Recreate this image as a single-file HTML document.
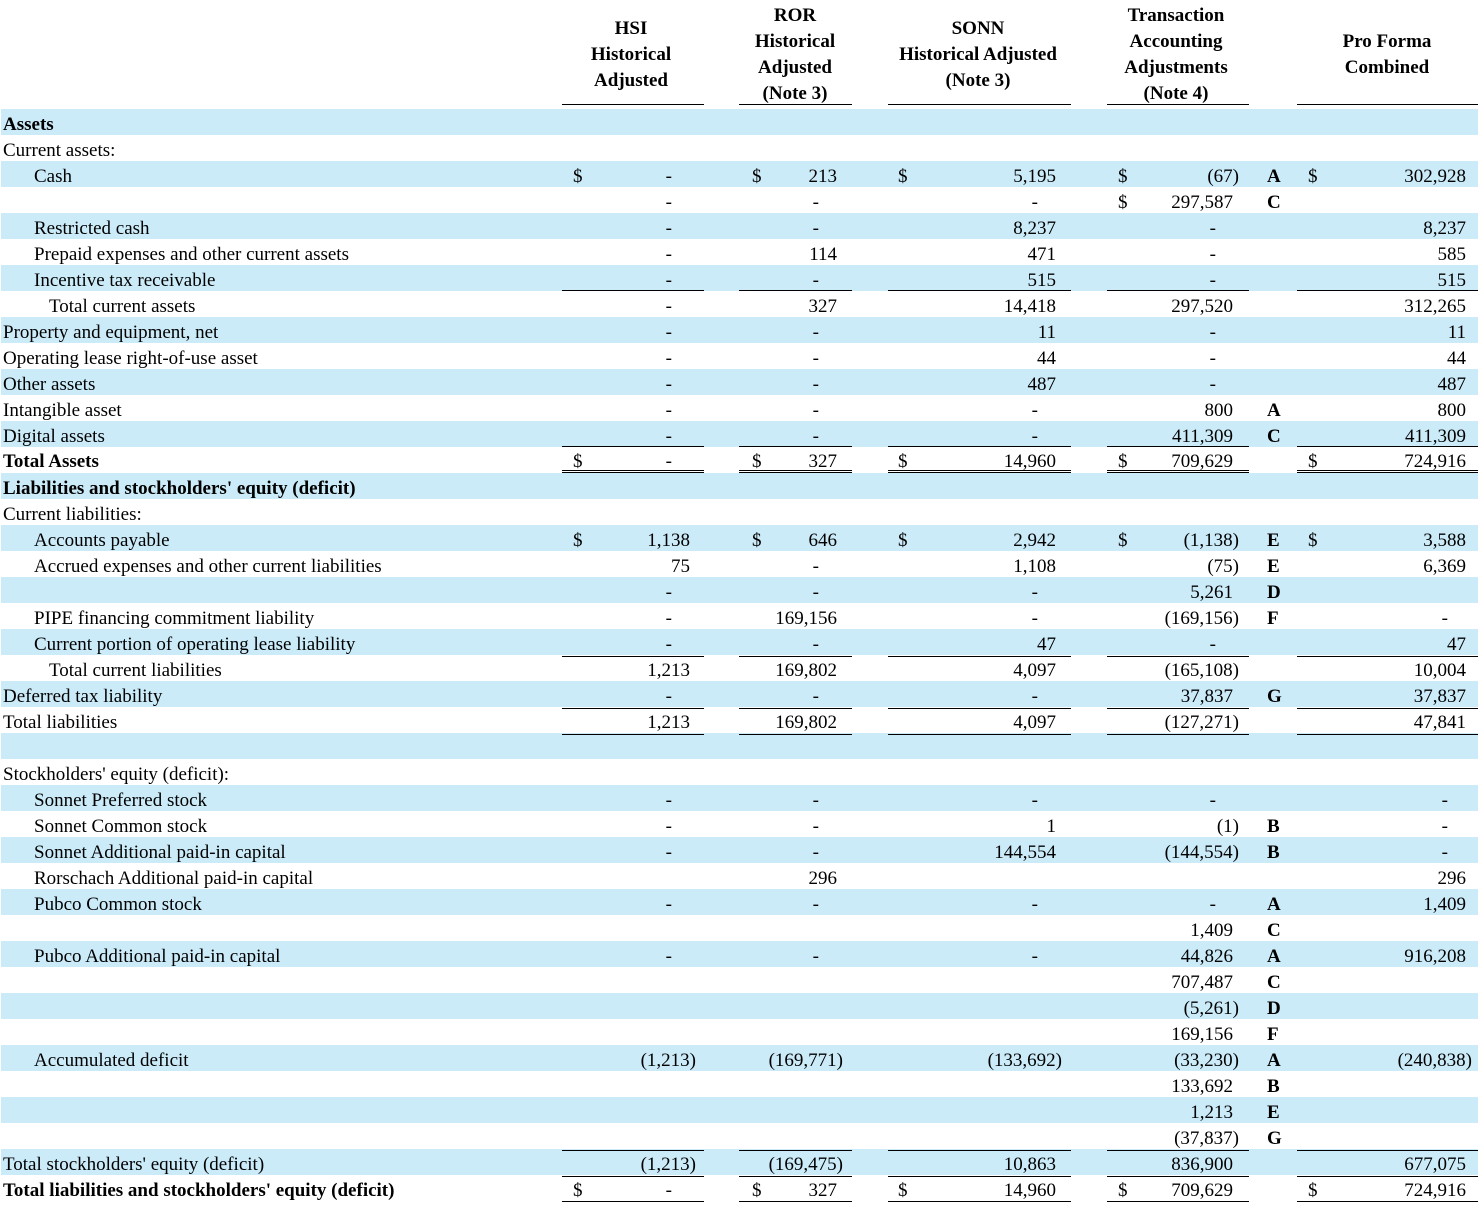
<!DOCTYPE html>
<html><head><meta charset="utf-8"><style>
body{margin:0;width:1480px;height:1205px;position:relative;overflow:hidden;background:#fff;font-family:"Liberation Serif","Times New Roman",serif;font-size:19px;color:#000}
.H{position:absolute;width:240px;text-align:center;font-weight:bold;line-height:26px;white-space:nowrap}
.r{position:absolute;left:0;width:1480px;height:26px}
.z{background:linear-gradient(90deg,#fff 1px,#cbebf9 1px,#cbebf9 1478px,#fff 1478px)}
.r span{position:absolute;top:3px;line-height:26px;white-space:nowrap}
.r.ta span{top:2px}
.l0{left:3px}.l1{left:34px}.l2{left:49px}
.b{font-weight:bold}
.dh{left:573px}.dr{left:752px}.ds{left:898px}.dt{left:1118px}.dp{left:1308px}
.h{right:790px}.hp{right:784px}.hd{right:808px}
.o{right:643px}.op{right:637px}.od{right:661px}
.m{right:424px}.mp{right:418px}.md{right:442px}
.t{right:247px}.tp{right:241px}.td{right:264px}
.p{right:14px}.pp{right:8px}.pd{right:32px}
.k{left:1267px;font-weight:bold}
.L{position:absolute;left:0;width:1480px;height:1px}
.L i{position:absolute;top:0;height:1px;background:#000}
.a1{left:562px;width:142px}.a2{left:739px;width:113px}.a3{left:888px;width:183px}.a4{left:1107px;width:142px}.a5{left:1297px;width:181px}
</style></head><body>

<div class="H" style="left:511px;top:16px">HSI<br>Historical<br>Adjusted</div>
<div class="H" style="left:675px;top:3px">ROR<br>Historical<br>Adjusted<br>(Note 3)</div>
<div class="H" style="left:858px;top:16px">SONN<br>Historical Adjusted<br>(Note 3)</div>
<div class="H" style="left:1056px;top:3px">Transaction<br>Accounting<br>Adjustments<br>(Note 4)</div>
<div class="H" style="left:1267px;top:29px">Pro Forma<br>Combined</div>

<div class="r z" style="top:109px"><span class="l0 b">Assets</span></div>
<div class="r" style="top:135px"><span class="l0">Current assets:</span></div>
<div class="r z" style="top:161px"><span class="l1">Cash</span><span class="dh">$</span><span class="hd">-</span><span class="dr">$</span><span class="o">213</span><span class="ds">$</span><span class="m">5,195</span><span class="dt">$</span><span class="tp">(67)</span><span class="k">A</span><span class="dp">$</span><span class="p">302,928</span></div>
<div class="r" style="top:187px"><span class="hd">-</span><span class="od">-</span><span class="md">-</span><span class="dt">$</span><span class="t">297,587</span><span class="k">C</span></div>
<div class="r z" style="top:213px"><span class="l1">Restricted cash</span><span class="hd">-</span><span class="od">-</span><span class="m">8,237</span><span class="td">-</span><span class="p">8,237</span></div>
<div class="r" style="top:239px"><span class="l1">Prepaid expenses and other current assets</span><span class="hd">-</span><span class="o">114</span><span class="m">471</span><span class="td">-</span><span class="p">585</span></div>
<div class="r z" style="top:265px"><span class="l1">Incentive tax receivable</span><span class="hd">-</span><span class="od">-</span><span class="m">515</span><span class="td">-</span><span class="p">515</span></div>
<div class="r" style="top:291px"><span class="l2">Total current assets</span><span class="hd">-</span><span class="o">327</span><span class="m">14,418</span><span class="t">297,520</span><span class="p">312,265</span></div>
<div class="r z" style="top:317px"><span class="l0">Property and equipment, net</span><span class="hd">-</span><span class="od">-</span><span class="m">11</span><span class="td">-</span><span class="p">11</span></div>
<div class="r" style="top:343px"><span class="l0">Operating lease right-of-use asset</span><span class="hd">-</span><span class="od">-</span><span class="m">44</span><span class="td">-</span><span class="p">44</span></div>
<div class="r z" style="top:369px"><span class="l0">Other assets</span><span class="hd">-</span><span class="od">-</span><span class="m">487</span><span class="td">-</span><span class="p">487</span></div>
<div class="r" style="top:395px"><span class="l0">Intangible asset</span><span class="hd">-</span><span class="od">-</span><span class="md">-</span><span class="t">800</span><span class="k">A</span><span class="p">800</span></div>
<div class="r z" style="top:421px"><span class="l0">Digital assets</span><span class="hd">-</span><span class="od">-</span><span class="md">-</span><span class="t">411,309</span><span class="k">C</span><span class="p">411,309</span></div>
<div class="r ta" style="top:447px"><span class="l0 b">Total Assets</span><span class="dh">$</span><span class="hd">-</span><span class="dr">$</span><span class="o">327</span><span class="ds">$</span><span class="m">14,960</span><span class="dt">$</span><span class="t">709,629</span><span class="dp">$</span><span class="p">724,916</span></div>
<div class="r z" style="top:473px"><span class="l0 b">Liabilities and stockholders' equity (deficit)</span></div>
<div class="r" style="top:499px"><span class="l0">Current liabilities:</span></div>
<div class="r z" style="top:525px"><span class="l1">Accounts payable</span><span class="dh">$</span><span class="h">1,138</span><span class="dr">$</span><span class="o">646</span><span class="ds">$</span><span class="m">2,942</span><span class="dt">$</span><span class="tp">(1,138)</span><span class="k">E</span><span class="dp">$</span><span class="p">3,588</span></div>
<div class="r" style="top:551px"><span class="l1">Accrued expenses and other current liabilities</span><span class="h">75</span><span class="od">-</span><span class="m">1,108</span><span class="tp">(75)</span><span class="k">E</span><span class="p">6,369</span></div>
<div class="r z" style="top:577px"><span class="hd">-</span><span class="od">-</span><span class="md">-</span><span class="t">5,261</span><span class="k">D</span></div>
<div class="r" style="top:603px"><span class="l1">PIPE financing commitment liability</span><span class="hd">-</span><span class="o">169,156</span><span class="md">-</span><span class="tp">(169,156)</span><span class="k">F</span><span class="pd">-</span></div>
<div class="r z" style="top:629px"><span class="l1">Current portion of operating lease liability</span><span class="hd">-</span><span class="od">-</span><span class="m">47</span><span class="td">-</span><span class="p">47</span></div>
<div class="r" style="top:655px"><span class="l2">Total current liabilities</span><span class="h">1,213</span><span class="o">169,802</span><span class="m">4,097</span><span class="tp">(165,108)</span><span class="p">10,004</span></div>
<div class="r z" style="top:681px"><span class="l0">Deferred tax liability</span><span class="hd">-</span><span class="od">-</span><span class="md">-</span><span class="t">37,837</span><span class="k">G</span><span class="p">37,837</span></div>
<div class="r" style="top:707px"><span class="l0">Total liabilities</span><span class="h">1,213</span><span class="o">169,802</span><span class="m">4,097</span><span class="tp">(127,271)</span><span class="p">47,841</span></div>
<div class="r z" style="top:733px"></div>
<div class="r" style="top:759px"><span class="l0">Stockholders' equity (deficit):</span></div>
<div class="r z" style="top:785px"><span class="l1">Sonnet Preferred stock</span><span class="hd">-</span><span class="od">-</span><span class="md">-</span><span class="td">-</span><span class="pd">-</span></div>
<div class="r" style="top:811px"><span class="l1">Sonnet Common stock</span><span class="hd">-</span><span class="od">-</span><span class="m">1</span><span class="tp">(1)</span><span class="k">B</span><span class="pd">-</span></div>
<div class="r z" style="top:837px"><span class="l1">Sonnet Additional paid-in capital</span><span class="hd">-</span><span class="od">-</span><span class="m">144,554</span><span class="tp">(144,554)</span><span class="k">B</span><span class="pd">-</span></div>
<div class="r" style="top:863px"><span class="l1">Rorschach Additional paid-in capital</span><span class="o">296</span><span class="p">296</span></div>
<div class="r z" style="top:889px"><span class="l1">Pubco Common stock</span><span class="hd">-</span><span class="od">-</span><span class="md">-</span><span class="td">-</span><span class="k">A</span><span class="p">1,409</span></div>
<div class="r" style="top:915px"><span class="t">1,409</span><span class="k">C</span></div>
<div class="r z" style="top:941px"><span class="l1">Pubco Additional paid-in capital</span><span class="hd">-</span><span class="od">-</span><span class="md">-</span><span class="t">44,826</span><span class="k">A</span><span class="p">916,208</span></div>
<div class="r" style="top:967px"><span class="t">707,487</span><span class="k">C</span></div>
<div class="r z" style="top:993px"><span class="tp">(5,261)</span><span class="k">D</span></div>
<div class="r" style="top:1019px"><span class="t">169,156</span><span class="k">F</span></div>
<div class="r z" style="top:1045px"><span class="l1">Accumulated deficit</span><span class="hp">(1,213)</span><span class="op">(169,771)</span><span class="mp">(133,692)</span><span class="tp">(33,230)</span><span class="k">A</span><span class="pp">(240,838)</span></div>
<div class="r" style="top:1071px"><span class="t">133,692</span><span class="k">B</span></div>
<div class="r z" style="top:1097px"><span class="t">1,213</span><span class="k">E</span></div>
<div class="r" style="top:1123px"><span class="tp">(37,837)</span><span class="k">G</span></div>
<div class="r z" style="top:1149px"><span class="l0">Total stockholders' equity (deficit)</span><span class="hp">(1,213)</span><span class="op">(169,475)</span><span class="m">10,863</span><span class="t">836,900</span><span class="p">677,075</span></div>
<div class="r" style="top:1175px"><span class="l0 b">Total liabilities and stockholders' equity (deficit)</span><span class="dh">$</span><span class="hd">-</span><span class="dr">$</span><span class="o">327</span><span class="ds">$</span><span class="m">14,960</span><span class="dt">$</span><span class="t">709,629</span><span class="dp">$</span><span class="p">724,916</span></div>

<div class="L" style="top:104px"><i class="a1"></i><i class="a2"></i><i class="a3"></i><i class="a4"></i><i class="a5"></i></div>
<div class="L" style="top:290px"><i class="a1"></i><i class="a2"></i><i class="a3"></i><i class="a4"></i><i class="a5"></i></div>
<div class="L" style="top:446px"><i class="a1"></i><i class="a2"></i><i class="a3"></i><i class="a4"></i><i class="a5"></i></div>
<div class="L" style="top:470px"><i class="a1"></i><i class="a2"></i><i class="a3"></i><i class="a4"></i><i class="a5"></i></div>
<div class="L" style="top:472px"><i class="a1"></i><i class="a2"></i><i class="a3"></i><i class="a4"></i><i class="a5"></i></div>
<div class="L" style="top:656px"><i class="a1"></i><i class="a2"></i><i class="a3"></i><i class="a4"></i><i class="a5"></i></div>
<div class="L" style="top:708px"><i class="a1"></i><i class="a2"></i><i class="a3"></i><i class="a4"></i><i class="a5"></i></div>
<div class="L" style="top:734px"><i class="a1"></i><i class="a2"></i><i class="a3"></i><i class="a4"></i><i class="a5"></i></div>
<div class="L" style="top:1150px"><i class="a1"></i><i class="a2"></i><i class="a3"></i><i class="a4"></i><i class="a5"></i></div>
<div class="L" style="top:1176px"><i class="a1"></i><i class="a2"></i><i class="a3"></i><i class="a4"></i><i class="a5"></i></div>
<div class="L" style="top:1201px"><i class="a1"></i><i class="a2"></i><i class="a3"></i><i class="a4"></i><i class="a5"></i></div>

</body></html>
